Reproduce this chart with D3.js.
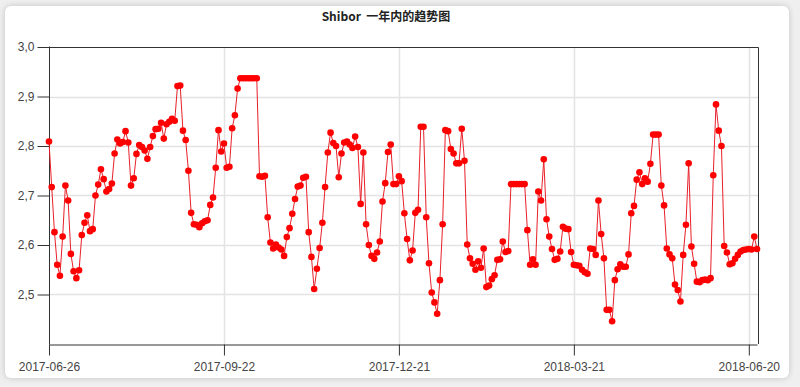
<html>
  <meta charset="utf-8">
  <head>
  <style>
    body {
      margin: 0;
      background: #efefef;
      font-family: "Liberation Sans", Arial, sans-serif;
    }
    #card {
      position: absolute;
      left: 5px;
      top: 6px;
      width: 784px;
      height: 372px;
      background: #fff;
      border-radius: 6px;
      box-shadow: 0 0 6px rgba(0,0,0,0.18);
    }
    svg#target {
      position: absolute;
      left: 0;
      top: 0;
    }
  </style>
  </head>
  <body>
    <div id="card"></div>
    <div id="chart"></div>

    <script src="https://d3js.org/d3.v7.min.js"></script>
    <script>

    'use strict';

    var TITLE = 'Shibor  一年内的趋势图';

    // shibor values, one per trading day
    var part1 = [
      2.809,2.717,2.626,2.560,2.538,2.617,2.720,2.690,2.582,2.547,
      2.533,2.549,2.620,2.645,2.660,2.628,2.632,2.700,2.722,2.753,
      2.733,2.708,2.713,2.724,2.785,2.813,2.805,2.808,2.830,2.807,
      2.720,2.735,2.784,2.802,2.798,2.791,2.774,2.798,2.820,2.834,
      2.835,2.847,2.815,2.844,2.849,2.855,2.851,2.921,2.922,2.831,
      2.812,2.750,2.665,2.642,2.641
    ];
    var part2 = [
      2.636,2.644,2.648,2.650,2.681,2.696,2.756,2.832,2.789,2.805,
      2.756,2.758,2.836,2.862,2.916,2.937,2.937,2.937,2.937,2.937,
      2.937,2.937,2.739,2.738,2.740,2.656,2.605,2.593,2.601,2.595,
      2.591,2.578,2.616,2.634,2.663,2.693,2.718,2.720,2.736,2.738,
      2.626,2.576,2.511,2.552,2.594,2.645,2.717,2.787,2.827,2.806,
      2.800,2.737,2.785,2.807,2.809,2.803,2.796,2.819,2.798,2.683
    ];
    var part3 = [
      2.787,2.642,2.600,2.578,2.572,2.585,2.607,2.688,2.725,2.788,
      2.803,2.723,2.723,2.739,2.729,2.664,2.612,2.569,2.589,2.665,
      2.671,2.839,2.839,2.656,2.563,2.504,2.484,2.461,2.529,2.642,
      2.832,2.830,2.794,2.785,2.765,2.765,2.835,2.770,2.601,2.573,
      2.562,2.550,2.567,2.554,2.593,2.515,2.518,2.531,2.539,2.570,
      2.571,2.607,2.586,2.588,2.723,2.723,2.723,2.723,2.723,2.723,
      2.630,2.560,2.571,2.560,2.708,2.690,2.773
    ];
    var part4 = [
      2.652,2.617,2.592,2.570,2.572,2.587,2.637,2.633,2.632,2.586,
      2.560,2.559,2.558,2.550,2.545,2.542,2.593,2.592,2.580,2.690,
      2.622,2.573,2.469,2.469,2.446,2.529,2.551,2.561,2.556,2.556,
      2.581,2.664,2.679,2.732,2.747,2.723,2.735,2.728,2.764,2.823,
      2.823,2.823,2.720,2.680,2.593,2.581,2.573,2.520,2.509,2.486,
      2.580,2.641,2.765,2.597,2.562,2.526,2.525,2.529,2.530,2.529,
      2.533,2.741,2.884,2.831,2.800,2.598,2.585,2.561,2.563,2.572,
      2.580,2.587,2.590,2.591,2.592,2.591,2.617,2.592
    ];
    var values = part1.concat(part2, part3, part4);

    var tickLabels = ['2017-06-26', '2017-09-22', '2017-12-21', '2018-03-21', '2018-06-20'];
    var tickIndex = [0, 64, 128, 192, 256];
    var yTicks = [2.5, 2.6, 2.7, 2.8, 2.9, 3.0];
    var yDomain = [2.4, 3.0];

    var W = 800, H = 387;
    var pLeft = 49, pRight = 757, pTop = 47, pBottom = 344;

    var svg = d3.select('#chart').append('svg')
      .attr('id', 'target')
      .attr('width', W)
      .attr('height', H);

    var x = d3.scaleLinear().domain([0, values.length - 1]).range([pLeft, pRight]);
    var y = d3.scaleLinear().domain(yDomain).range([pBottom, pTop]);

    var comma = d3.formatLocale({decimal: ',', thousands: '.', grouping: [3], currency: ['', '']}).format('.1f');

    // grid
    svg.append('g').selectAll('line').data(yTicks.slice(0, -1)).enter()
      .append('line')
      .attr('x1', pLeft).attr('x2', pRight + 1)
      .attr('y1', function(d) { return Math.round(y(d)) + 0.5; })
      .attr('y2', function(d) { return Math.round(y(d)) + 0.5; })
      .attr('stroke', '#e3e3e3').attr('stroke-width', 1.5);
    svg.append('g').selectAll('line').data(tickIndex.slice(1)).enter()
      .append('line')
      .attr('y1', pTop).attr('y2', pBottom)
      .attr('x1', function(d) { return Math.round(x(d)) + 0.5; })
      .attr('x2', function(d) { return Math.round(x(d)) + 0.5; })
      .attr('stroke', '#e3e3e3').attr('stroke-width', 1.5);

    // frame top and right
    svg.append('path')
      .attr('d', 'M' + pLeft + ',' + (pTop + 0.5) + 'H' + (pRight + 1.5) + 'V' + pBottom)
      .attr('fill', 'none').attr('stroke', '#333');

    var yAxis = d3.axisLeft(y).tickValues(yTicks).tickFormat(comma).tickSize(12).tickPadding(3).tickSizeOuter(0);
    var gy = svg.append('g').attr('transform', 'translate(' + (pLeft + 0.5) + ',0)').call(yAxis);

    var xAxis = d3.axisBottom(x).tickValues(tickIndex)
      .tickFormat(function(d, i) { return tickLabels[i]; })
      .tickSize(11).tickPadding(7).tickSizeOuter(0);
    var gx = svg.append('g').attr('transform', 'translate(0,' + (pBottom + 0.5) + ')').call(xAxis);

    [gx, gy].forEach(function(g) {
      g.select('.domain').attr('stroke', '#333');
      g.selectAll('.tick line').attr('stroke', '#333');
      g.selectAll('.tick text')
        .attr('fill', '#444')
        .style('font-family', '"Liberation Sans", Arial, sans-serif')
        .style('font-size', '12px');
    });
    // the left axis has to reach the bottom line
    gy.select('.domain').attr('d', 'M0,' + (pTop - 0.5) + 'V' + (pBottom + 0.5));

    // series
    var line = d3.line()
      .x(function(d, i) { return x(i); })
      .y(function(d) { return y(d); });

    svg.append('path')
      .datum(values)
      .attr('d', line)
      .attr('fill', 'none')
      .attr('stroke', '#e8202a')
      .attr('stroke-width', 1);

    svg.append('g').selectAll('circle').data(values).enter()
      .append('circle')
      .attr('cx', function(d, i) { return x(i); })
      .attr('cy', function(d) { return y(d); })
      .attr('r', 3.3)
      .attr('fill', '#ff0000');

    svg.append('text')
      .attr('x', 386).attr('y', 21)
      .attr('text-anchor', 'middle')
      .style('white-space', 'pre')
      .style('font-family', '"Noto Sans CJK SC", sans-serif')
      .style('font-weight', 'bold')
      .style('font-size', '12px')
      .attr('fill', '#222')
      .text(TITLE);

    </script>
  </body>
</html>
